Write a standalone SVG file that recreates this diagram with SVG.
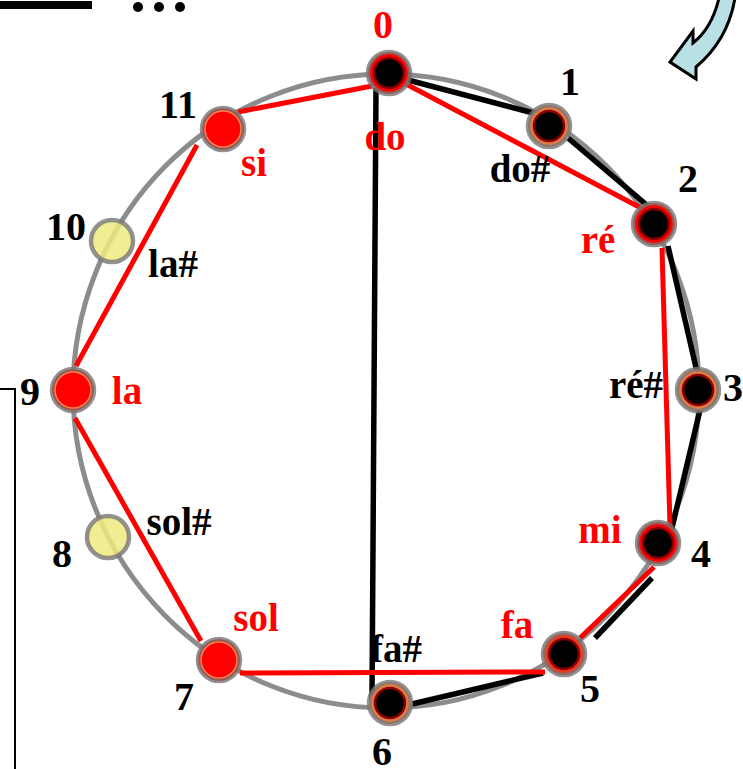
<svg xmlns="http://www.w3.org/2000/svg" width="743" height="769" viewBox="0 0 743 769">
<defs>
<style>
.num{font-family:"Liberation Serif",serif;font-weight:bold;font-size:40px;fill:#000;text-anchor:middle}
.lbl{font-family:"Liberation Serif",serif;font-weight:bold;font-size:39px;text-anchor:middle}
.r{fill:#ff0000}
.k{fill:#000}
.rl{stroke:#ff0000;stroke-width:5;fill:none}
.bl{stroke:#000;stroke-width:5.5;fill:none}
.ring{stroke:#777;stroke-opacity:0.8;stroke-width:4.5}
.core{fill:#000;stroke:#8b0000;stroke-width:2.5}
</style>
</defs>
<rect width="743" height="769" fill="#fff"/>
<g id="decor">
<rect x="0" y="1" width="92" height="8" fill="#000"/>
<circle cx="138" cy="7" r="5" fill="#000"/>
<circle cx="159" cy="7" r="5" fill="#000"/>
<circle cx="180" cy="7" r="5" fill="#000"/>
<path d="M719,-2 Q712,28 693,43 L693,31 L670,62 L696,79 L696,67 Q728,40 735,-2 Z" fill="#b9e0e4" stroke="#000" stroke-width="3" stroke-linejoin="miter"/>
<path d="M0,389 H15 V769" fill="none" stroke="#000" stroke-width="2"/>
</g>
<g id="circle">
<ellipse cx="386" cy="391" rx="313" ry="317" fill="none" stroke="#8c8c8c" stroke-width="5"/>
</g>
<g id="connectors">
<line class="bl" x1="376" y1="88" x2="372" y2="700"/>
<line class="bl" x1="408" y1="80" x2="537" y2="114"/>
<line class="bl" x1="568" y1="138" x2="655" y2="212"/>
<line class="bl" x1="668" y1="246" x2="697" y2="372"/>
<line class="bl" x1="700" y1="410" x2="671" y2="532"/>
<line class="bl" x1="652" y1="578" x2="595" y2="638"/>
<line class="bl" x1="543" y1="673" x2="412" y2="704"/>
<line class="rl" x1="238" y1="112" x2="372" y2="86"/>
<line class="rl" x1="406" y1="84" x2="641" y2="208"/>
<line class="rl" x1="662" y1="248" x2="670" y2="526"/>
<line class="rl" x1="654" y1="567" x2="580" y2="638"/>
<line class="rl" x1="545" y1="672" x2="240" y2="673"/>
<line class="rl" x1="75" y1="418" x2="201" y2="641"/>
<line class="rl" x1="76" y1="366" x2="197" y2="145"/>
</g>
<g id="node0"><circle class="ring" cx="389" cy="73" r="21" fill="#ff0000"/><circle class="core" cx="389" cy="73" r="15"/></g>
<g id="node1"><circle class="ring" cx="549" cy="126" r="21" fill="#e07a45"/><circle class="core" cx="549" cy="126" r="15"/></g>
<g id="node2"><circle class="ring" cx="654" cy="224" r="21" fill="#ff0000"/><circle class="core" cx="654" cy="224" r="15"/></g>
<g id="node3"><circle class="ring" cx="698" cy="390" r="21" fill="#e07a45"/><circle class="core" cx="698" cy="390" r="15"/></g>
<g id="node4"><circle class="ring" cx="658" cy="543" r="21" fill="#ff0000"/><circle class="core" cx="658" cy="543" r="15"/></g>
<g id="node5"><circle class="ring" cx="564" cy="654" r="21" fill="#f03a20"/><circle class="core" cx="564" cy="654" r="15"/></g>
<g id="node6"><circle class="ring" cx="390" cy="703" r="21" fill="#e07a45"/><circle class="core" cx="390" cy="703" r="15"/></g>
<g id="node7"><circle class="ring" cx="219" cy="660" r="21" fill="#ff0000"/><circle cx="219" cy="660" r="18" fill="none" stroke="#f08850" stroke-width="1.5"/></g>
<g id="node8"><circle class="ring" cx="108" cy="537" r="21" fill="#eeea80" fill-opacity="0.85"/></g>
<g id="node9"><circle class="ring" cx="73" cy="390" r="21" fill="#ff0000"/><circle cx="73" cy="390" r="18" fill="none" stroke="#f08850" stroke-width="1.5"/></g>
<g id="node10"><circle class="ring" cx="112" cy="241" r="21" fill="#eeea80" fill-opacity="0.85"/></g>
<g id="node11"><circle class="ring" cx="223" cy="129" r="21" fill="#ff0000"/><circle cx="223" cy="129" r="18" fill="none" stroke="#f08850" stroke-width="1.5"/></g>
<g id="numbers">
<text class="num" x="383" y="38" style="fill:#ff0000">0</text>
<text class="num" x="570" y="95">1</text>
<text class="num" x="688" y="192">2</text>
<text class="num" x="733" y="401">3</text>
<text class="num" x="701" y="567">4</text>
<text class="num" x="590" y="702">5</text>
<text class="num" x="382" y="765">6</text>
<text class="num" x="184" y="710">7</text>
<text class="num" x="62" y="567">8</text>
<text class="num" x="30" y="405">9</text>
<text class="num" x="66" y="240">10</text>
<text class="num" x="178" y="118">11</text>
</g>
<g id="labels">
<text class="lbl r" x="385" y="150">do</text>
<text class="lbl k" x="520" y="182">do#</text>
<text class="lbl r" x="598" y="253">ré</text>
<text class="lbl k" x="636" y="398">ré#</text>
<text class="lbl r" x="600" y="543">mi</text>
<text class="lbl r" x="517" y="638">fa</text>
<text class="lbl k" x="396" y="662">fa#</text>
<text class="lbl r" x="256" y="631">sol</text>
<text class="lbl k" x="179" y="535">sol#</text>
<text class="lbl r" x="127" y="404">la</text>
<text class="lbl k" x="173" y="277">la#</text>
<text class="lbl r" x="254" y="176">si</text>
</g>
</svg>
